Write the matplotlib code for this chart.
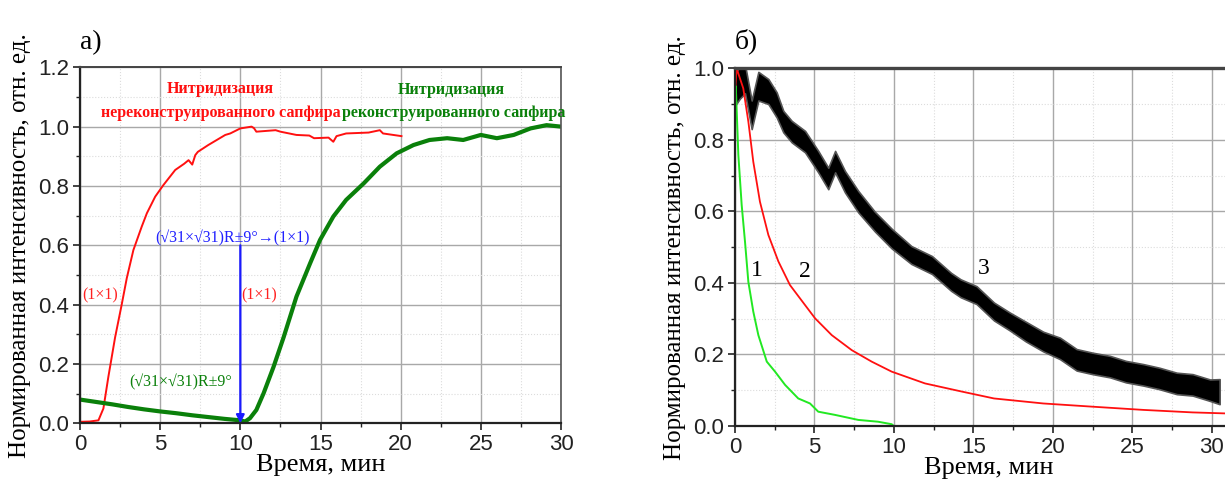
import numpy as np
import matplotlib
matplotlib.use("Agg")
from matplotlib import pyplot as plt
from matplotlib.ticker import MultipleLocator, FormatStrFormatter

SERIF = ['Liberation Serif', 'DejaVu Serif']
SANS = ['Liberation Sans', 'DejaVu Sans']
YLABEL = 'Нормированная интенсивность, отн. ед.'
XLABEL = 'Время, мин'

# panel a: nitridation of the unreconstructed sapphire (red)
red_a_t = [0.0, 0.6, 1.15, 1.46, 1.77, 2.19, 2.6, 2.92, 3.33, 3.85, 4.17, 4.69, 5.2,
           5.94, 6.5, 6.77, 7.0, 7.19, 7.35, 8.0, 9.06, 9.37, 10.0, 10.7, 10.85, 11.0,
           12.2, 12.5, 13.5, 14.3, 14.6, 15.5, 15.8, 16.0, 16.6, 18.0, 18.7, 18.9, 20.05]
red_a_v = [0.005, 0.006, 0.01, 0.05, 0.157, 0.29, 0.40, 0.49, 0.584, 0.663, 0.708, 0.764, 0.803,
           0.854, 0.875, 0.887, 0.872, 0.904, 0.915, 0.938, 0.972, 0.977, 0.994, 1.0, 0.995, 0.983,
           0.988, 0.983, 0.972, 0.97, 0.961, 0.963, 0.949, 0.968, 0.977, 0.98, 0.988, 0.977, 0.968]

# panel a: nitridation of the reconstructed sapphire (green)
green_a_t = [0.0, 1.0, 2.0, 3.0, 4.0, 5.0, 6.0, 7.0, 8.0, 9.0, 10.0, 10.3, 10.6, 11.0,
             11.45, 12.07, 12.7, 13.5, 14.35, 14.97, 15.8, 16.6, 17.7, 18.7, 19.75, 20.8,
             21.8, 22.9, 23.9, 25.0, 26.0, 27.05, 28.1, 29.1, 30.0]
green_a_v = [0.08, 0.072, 0.064, 0.055, 0.047, 0.04, 0.034, 0.027, 0.021, 0.015, 0.01, 0.006, 0.017, 0.045,
             0.101, 0.19, 0.29, 0.427, 0.539, 0.618, 0.697, 0.753, 0.809, 0.865, 0.91, 0.938,
             0.955, 0.961, 0.955, 0.972, 0.961, 0.972, 0.994, 1.005, 1.0]

# panel b: intensity decay, curves 1, 2, 3
g_b_t = [0.0, 0.05, 0.21, 0.42, 0.63, 0.84, 1.15, 1.47, 2.0, 2.52, 3.15, 3.98, 4.72, 5.24,
         6.3, 7.76, 9.0, 9.86, 10.0]
g_b_v = [0.9, 0.95, 0.758, 0.618, 0.515, 0.403, 0.32, 0.254, 0.18, 0.152, 0.115, 0.077, 0.063, 0.04,
         0.031, 0.017, 0.012, 0.005, 0.0]

r_b_t = [0.0, 0.1, 0.52, 0.84, 1.15, 1.57, 2.1, 2.73, 3.46, 4.41, 5.04, 6.09, 7.35, 8.6, 9.86,
         11.96, 14.3, 16.3, 19.4, 22.5, 25.7, 28.8, 31.0]
r_b_v = [0.93, 1.0, 0.944, 0.851, 0.739, 0.627, 0.534, 0.46, 0.394, 0.338, 0.301, 0.254, 0.212, 0.18, 0.152,
         0.119, 0.096, 0.077, 0.063, 0.054, 0.045, 0.038, 0.035]

k_b_t = [0.0, 0.3, 0.63, 1.05, 1.47, 2.1, 2.62, 3.04, 3.57, 4.41, 5.24, 5.87, 6.3, 6.92, 7.76,
         8.81, 9.86, 11.1, 12.4, 13.6, 14.2, 15.2, 16.3, 17.3, 18.3, 19.4, 20.45, 21.5, 22.5,
         23.6, 24.6, 25.7, 26.7, 27.8, 28.8, 29.9, 30.5]
k_b_v = [0.94, 0.96, 0.97, 0.87, 0.95, 0.935, 0.898, 0.851, 0.823, 0.795, 0.739, 0.692, 0.739, 0.683, 0.627,
         0.571, 0.524, 0.478, 0.45, 0.403, 0.385, 0.366, 0.32, 0.292, 0.264, 0.236, 0.217, 0.185, 0.175,
         0.166, 0.152, 0.143, 0.133, 0.119, 0.115, 0.1, 0.096]
k_b_spread = [0.09, 0.09, 0.08, 0.08, 0.08, 0.07, 0.07, 0.06, 0.06, 0.06, 0.06, 0.06, 0.06, 0.06, 0.06,
              0.055, 0.055, 0.05, 0.05, 0.05, 0.05, 0.05, 0.05, 0.05, 0.055, 0.055, 0.06, 0.06, 0.06,
              0.06, 0.06, 0.06, 0.06, 0.06, 0.06, 0.06, 0.07]

W, H = 1225, 503
fig = plt.figure(figsize=(W / 100, H / 100), dpi=100)
ax_a = fig.add_axes([80 / W, (H - 423.3) / H, 481 / W, 356 / H])
ax_b = fig.add_axes([735 / W, (H - 426) / H, 32 * 15.89 / W, 357.7 / H])


def style(ax, xmax, ymax, topw):
    ax.set_xlim(0, xmax)
    ax.set_ylim(0, ymax)
    ax.xaxis.set_major_locator(MultipleLocator(5))
    ax.xaxis.set_minor_locator(MultipleLocator(2.5))
    ax.yaxis.set_major_locator(MultipleLocator(0.2))
    ax.yaxis.set_minor_locator(MultipleLocator(0.1))
    ax.yaxis.set_major_formatter(FormatStrFormatter('%.1f'))
    ax.grid(which='major', color='#a8a8a8', lw=1.0)
    ax.grid(which='minor', color='#dcdcdc', lw=0.8, ls=':')
    ax.set_axisbelow(True)
    ax.tick_params(which='major', direction='out', length=5, width=1.2, colors='#222',
                   labelsize=16, pad=3)
    ax.tick_params(which='minor', direction='out', length=3, width=1.0, colors='#222')
    for lab in ax.get_xticklabels() + ax.get_yticklabels():
        lab.set_family(SANS)
    for s in ['left', 'bottom']:
        ax.spines[s].set_linewidth(1.6)
        ax.spines[s].set_color('#222')
    ax.spines['top'].set_linewidth(topw)
    ax.spines['top'].set_color('#444')
    ax.spines['right'].set_linewidth(1.2)
    ax.spines['right'].set_color('#555')
    ax.set_xlabel(XLABEL, family=SERIF, fontsize=19, labelpad=-1)
    ax.set_ylabel(YLABEL, family=SERIF, fontsize=18, labelpad=5)


# panel a
style(ax_a, 30, 1.2, 1.4)
ax_a.plot(red_a_t, red_a_v, color='#ff1010', lw=1.4)
ax_a.plot(green_a_t, green_a_v, color='#0a800a', lw=3.0)
ax_a.annotate('', xy=(10, 0.0), xytext=(10, 0.6),
              arrowprops=dict(arrowstyle='-|>', color='#1a1aff', lw=1.6, mutation_scale=12,
                              shrinkA=0, shrinkB=0))
ax_a.text(9.5, 0.625, '(√31×√31)R±9°→(1×1)', color='#2020ff', family=SERIF, fontsize=11.5,
          ha='center', va='center')
ax_a.text(1.25, 0.43, '(1×1)', color='#ff2020', family=SERIF, fontsize=11.5, ha='center', va='center')
ax_a.text(11.2, 0.43, '(1×1)', color='#ff2020', family=SERIF, fontsize=11.5, ha='center', va='center')
ax_a.text(6.3, 0.137, '(√31×√31)R±9°', color='#0a800a', family=SERIF, fontsize=11.5,
          ha='center', va='center')
ax_a.text(8.75, 1.128, 'Нитридизация', color='#ff1010', family=SERIF, fontsize=11.5,
          fontweight='bold', ha='center', va='center')
ax_a.text(8.8, 1.046, 'нереконструированного сапфира', color='#ff1010', family=SERIF,
          fontsize=11.5, fontweight='bold', ha='center', va='center')
ax_a.text(23.15, 1.123, 'Нитридизация', color='#0a800a', family=SERIF, fontsize=11.5,
          fontweight='bold', ha='center', va='center')
ax_a.text(23.3, 1.046, 'реконструированного сапфира', color='#0a800a', family=SERIF,
          fontsize=11.5, fontweight='bold', ha='center', va='center')
ax_a.text(0.0, 1.07, 'а)', transform=ax_a.transAxes, family=SERIF, fontsize=20,
          ha='left', va='center')

# panel b
style(ax_b, 32, 1.0, 2.4)
kt = np.array(k_b_t)
kv = np.array(k_b_v)
ks = np.array(k_b_spread)
ax_b.fill_between(kt, kv - ks / 2, kv + ks / 2, color='black', lw=1.2, edgecolor='#555')
ax_b.plot(r_b_t, r_b_v, color='#ff1010', lw=1.3)
ax_b.plot(g_b_t, g_b_v, color='#22e822', lw=1.4)
for lab, tx, ty in [('1', 1.37, 0.436), ('2', 4.4, 0.431), ('3', 15.65, 0.441)]:
    ax_b.text(tx, ty, lab, family=SERIF, fontsize=17, ha='center', va='center')
ax_b.text(0.0, 1.075, 'б)', transform=ax_b.transAxes, family=SERIF, fontsize=20,
          ha='left', va='center')

fig.savefig('out.png', dpi=100)
